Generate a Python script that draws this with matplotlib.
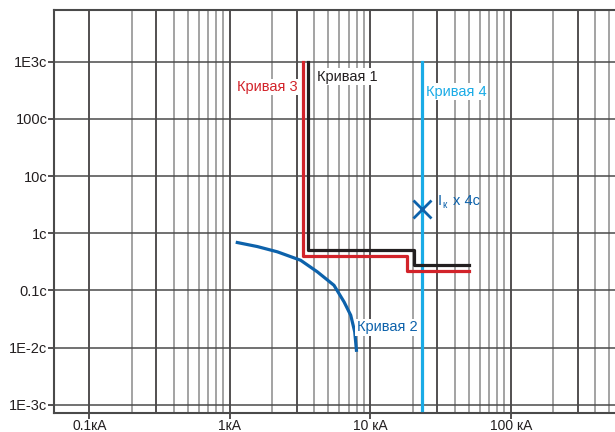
import numpy as np
import matplotlib
matplotlib.use('agg')
import matplotlib.pyplot as plt

plt.rcParams['font.family'] = ['Liberation Sans', 'DejaVu Sans']

# curves (kA, seconds)
curve1_x = [3.6, 3.6, 20.4, 20.4, 50]
curve1_y = [1000, 0.50, 0.50, 0.276, 0.276]
curve3_x = [3.3, 3.3, 18.3, 18.3, 50]
curve3_y = [1000, 0.40, 0.40, 0.217, 0.217]
curve2_x = [1.13, 1.57, 2.18, 3.19, 4.2, 5.51, 6.5, 7.25, 7.74, 7.96]
curve2_y = [0.688, 0.585, 0.473, 0.337, 0.211, 0.123, 0.063, 0.0368, 0.0189, 0.009]
curve4_x = [23.3, 23.3]
curve4_y = [1000, 8.2e-4]
ik_x, ik_y = 23.3, 2.7

x_ticks = [0.1, 1, 10, 100]
x_labels = ['0.1кA', '1кA', '10 кA', '100 кA']
y_ticks = [1e-3, 1e-2, 0.1, 1, 10, 100, 1000]
y_labels = ['1E-3с', '1E-2с', '0.1с', '1с', '10с', '100с', '1E3с']

black = '#231f20'
red = '#d2232a'
blue = '#0d62ab'
light = '#1aabe6'

fig = plt.figure(figsize=(6.15, 4.32), dpi=100)
ax = fig.add_axes([0.0886, 0.044, 0.9114, 0.933])
ax.set_xscale('log')
ax.set_yscale('log')
ax.set_xlim(0.0565, 551)
ax.set_ylim(7.2e-4, 8020)

# grid
for dec in [0.1, 1, 10, 100]:
    for k in range(1, 10):
        v = k * dec
        if v > 551:
            break
        c = black if k in (1, 3) else '#8a8a8a'
        ax.axvline(v, color=c, lw=1.1, zorder=1)
for v in y_ticks:
    ax.axhline(v, color='#4a4a4a', lw=1.1, zorder=1)

ax.plot(curve4_x, curve4_y, color=light, lw=2.3, zorder=3)
ax.plot(curve3_x, curve3_y, color=red, lw=2.3, zorder=3)
ax.plot(curve1_x, curve1_y, color=black, lw=2.3, zorder=3)
ax.plot(curve2_x, curve2_y, color=blue, lw=2.3, zorder=3)
ax.plot([ik_x], [ik_y], marker='x', color=blue, ms=13, mew=2, zorder=4)

box = dict(facecolor='white', edgecolor='none', pad=1)
ax.text(3.04, 361, 'Кривая 3', color=red, fontsize=10.5, ha='right', va='center', bbox=box, zorder=5)
ax.text(4.17, 547, 'Кривая 1', color=black, fontsize=10.5, ha='left', va='center', bbox=box, zorder=5)
ax.text(24.9, 298, 'Кривая 4', color=light, fontsize=10.5, ha='left', va='center', bbox=box, zorder=5)
ax.text(8.0, 0.0225, 'Кривая 2', color=blue, fontsize=10.5, ha='left', va='center', bbox=box, zorder=5)
ax.text(30.2, 3.73, 'I', color=blue, fontsize=10.5, ha='left', va='center', zorder=5)
ax.annotate('к', (30.2, 3.73), xytext=(3.5, -3.5), textcoords='offset points',
            color=blue, fontsize=7, ha='left', va='center', zorder=5)
ax.annotate('x 4с', (30.2, 3.73), xytext=(11, 0), textcoords='offset points',
            color=blue, fontsize=10.5, ha='left', va='center', zorder=5)

ax.set_xticks(x_ticks)
ax.set_xticklabels(x_labels)
ax.set_yticks(y_ticks)
ax.set_yticklabels(y_labels)
ax.minorticks_off()
ax.tick_params(axis='both', labelsize=10.5, colors='#231f20', length=4, width=1.1, pad=1)
ax.tick_params(axis='x', labelsize=10, pad=0)
ax.spines['right'].set_visible(False)
for s in ['left', 'bottom', 'top']:
    ax.spines[s].set_color('#4a4a4a')
    ax.spines[s].set_linewidth(1.5)

plt.savefig('out.png', dpi=100)
